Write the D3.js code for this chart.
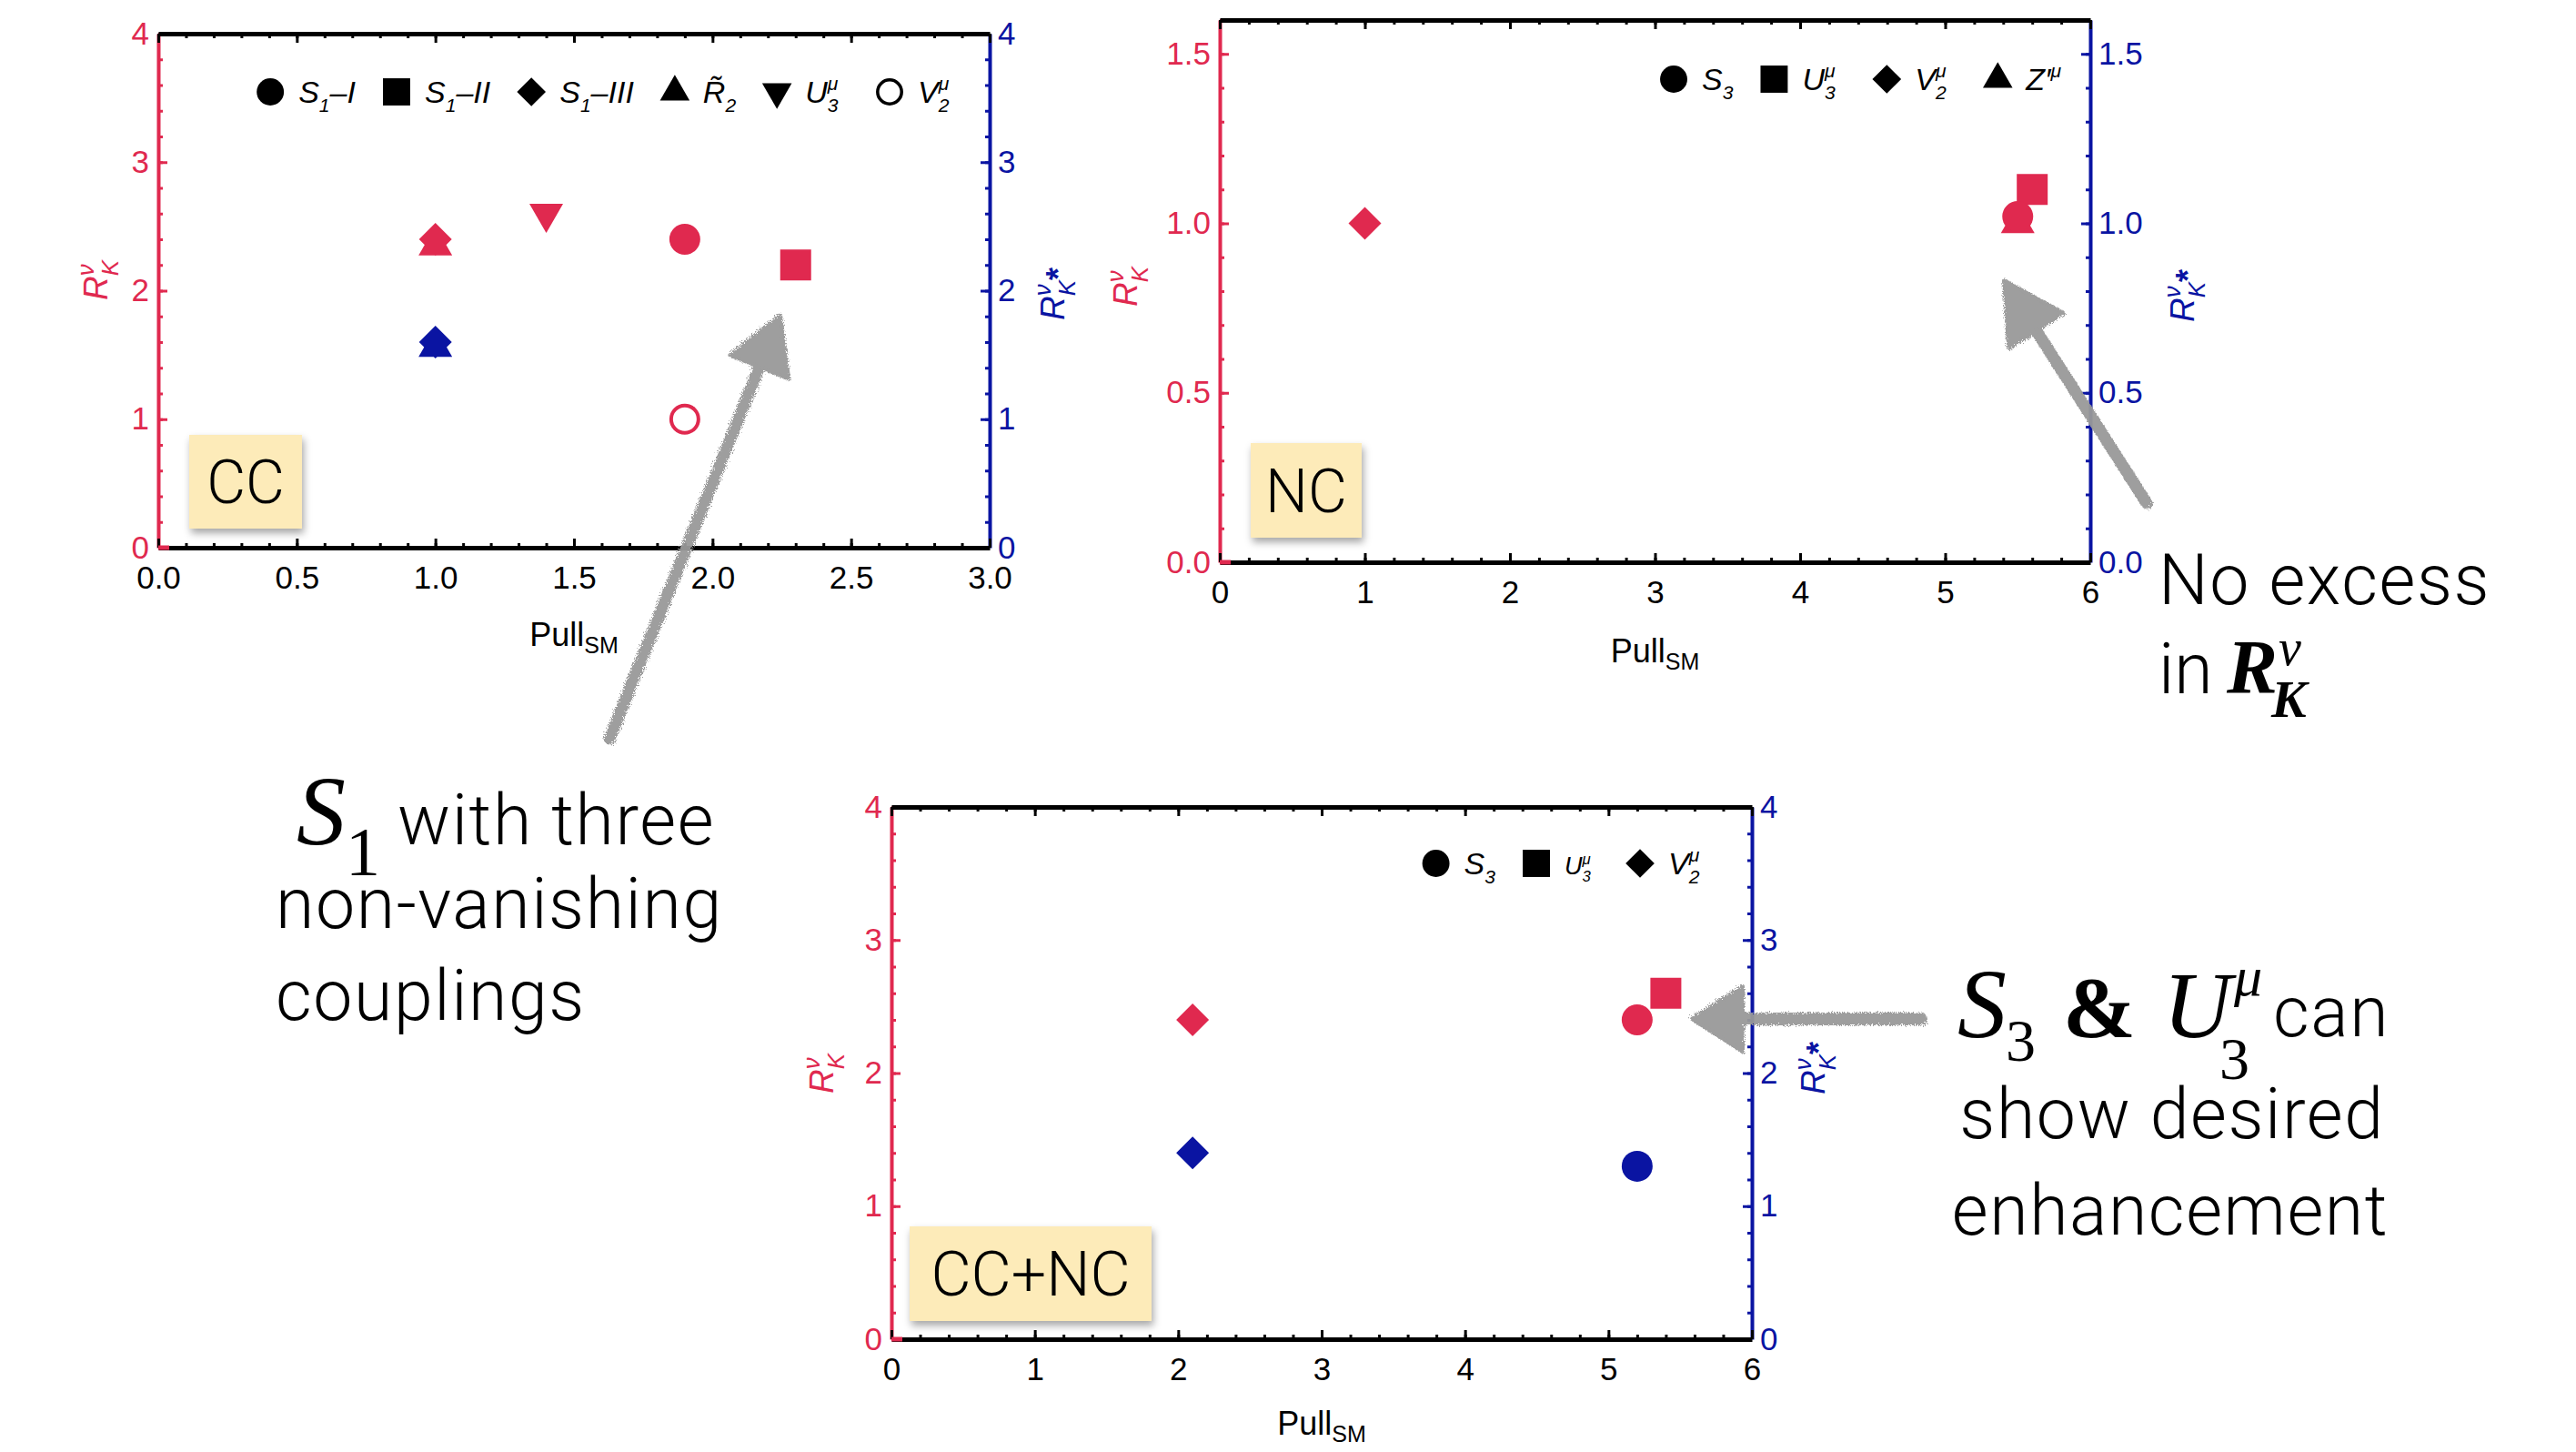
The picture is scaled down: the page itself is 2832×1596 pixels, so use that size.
<!DOCTYPE html>
<html><head><meta charset="utf-8">
<script src="https://cdn.jsdelivr.net/npm/d3@7"></script>
<style>body{margin:0;background:#fff} svg{display:block}</style>
</head><body>
<svg id="c" width="2832" height="1596"></svg>
<script>
// ---------------- DATA ----------------
// Panel CC
const ccModels  = ["S1-I", "S1-II", "S1-III", "R2tilde", "U3mu", "V2mu"];
const ccShapes  = ["circle", "square", "diamond", "triangle", "triangleDown", "circleOpen"];
const ccPull    = [1.9, 2.3, 1.0, 1.0, 1.4, 1.9];
const ccRK      = [2.4, 2.2, 2.4, 2.35, 2.6, 1.0];
const ccRKstar  = [null, null, 1.6, 1.56, null, null];
const ccXTicks  = [0, 0.5, 1, 1.5, 2, 2.5, 3];
const ccXLabels = ["0.0", "0.5", "1.0", "1.5", "2.0", "2.5", "3.0"];
const ccYTicks  = [0, 1, 2, 3, 4];
const ccYLabels = ["0", "1", "2", "3", "4"];
const ccLegend  = [
  {t: "S", sub: "1", post: "–I"},
  {t: "S", sub: "1", post: "–II"},
  {t: "S", sub: "1", post: "–III"},
  {t: "R\u0303", sub: "2"},
  {t: "U", sub: "3", sup: "μ"},
  {t: "V", sub: "2", sup: "μ"}
];
// Panel NC
const ncModels  = ["S3", "U3mu", "V2mu", "Zpmu"];
const ncShapes  = ["circle", "square", "diamond", "triangle"];
const ncPull    = [5.5, 5.6, 1.0, 5.5];
const ncRK      = [1.02, 1.1, 1.0, 1.0];
const ncRKstar  = [null, null, null, null];
const ncXTicks  = [0, 1, 2, 3, 4, 5, 6];
const ncXLabels = ["0", "1", "2", "3", "4", "5", "6"];
const ncYTicks  = [0, 0.5, 1.0, 1.5];
const ncYLabels = ["0.0", "0.5", "1.0", "1.5"];
const ncLegend  = [
  {t: "S", sub: "3"},
  {t: "U", sub: "3", sup: "μ"},
  {t: "V", sub: "2", sup: "μ"},
  {t: "Z′", sup: "μ"}
];
// Panel CC+NC
const cnModels  = ["S3", "U3mu", "V2mu"];
const cnShapes  = ["circle", "square", "diamond"];
const cnPull    = [5.2, 5.4, 2.1];
const cnRK      = [2.4, 2.6, 2.4];
const cnRKstar  = [1.3, null, 1.4];
const cnXTicks  = [0, 1, 2, 3, 4, 5, 6];
const cnXLabels = ["0", "1", "2", "3", "4", "5", "6"];
const cnYTicks  = [0, 1, 2, 3, 4];
const cnYLabels = ["0", "1", "2", "3", "4"];
const cnLegend  = [
  {t: "S", sub: "3"},
  {t: "U", sub: "3", sup: "μ", small: true},
  {t: "V", sub: "2", sup: "μ"}
];

// ---------------- STYLE ----------------
const RED = "#e0294f", BLUE = "#0a14a2";
const SANS = "'Liberation Sans', Arial, sans-serif";
const LIGHT = "Roboto, 'Open Sans', sans-serif";
const SERIF = "'Liberation Serif', 'Times New Roman', serif";

const svg = d3.select("#c");
svg.append("rect").attr("width", 2832).attr("height", 1596).attr("fill", "#fff");
const defs = svg.append("defs");
const rough = defs.append("filter").attr("id", "rough").attr("x", "-20%").attr("y", "-20%").attr("width", "140%").attr("height", "140%");
rough.append("feTurbulence").attr("type", "fractalNoise").attr("baseFrequency", 0.9).attr("numOctaves", 2).attr("result", "n");
rough.append("feDisplacementMap").attr("in", "SourceGraphic").attr("in2", "n").attr("scale", 8);
const shadow = defs.append("filter").attr("id", "shadow").attr("x", "-20%").attr("y", "-20%").attr("width", "140%").attr("height", "150%");
shadow.append("feDropShadow").attr("dx", 2).attr("dy", 5).attr("stdDeviation", 4).attr("flood-color", "#000").attr("flood-opacity", 0.35);

const diamondType = {draw(ctx, size) { const r = Math.sqrt(size / 2); ctx.moveTo(0, -r); ctx.lineTo(r, 0); ctx.lineTo(0, r); ctx.lineTo(-r, 0); ctx.closePath(); }};
function drawSymbol(g, shape, cx, cy, color, k) {
  k = k || 1;
  let sel;
  if (shape === "circle") sel = g.append("path").attr("d", d3.symbol(d3.symbolCircle, Math.PI * 17 * 17 * k * k)());
  else if (shape === "circleOpen") { sel = g.append("circle").attr("r", 15 * k).attr("fill", "none").attr("stroke", color).attr("stroke-width", 4 * k); sel.attr("cx", cx).attr("cy", cy); return sel; }
  else if (shape === "square") sel = g.append("path").attr("d", d3.symbol(d3.symbolSquare, 34 * 34 * k * k)());
  else if (shape === "diamond") sel = g.append("path").attr("d", d3.symbol(diamondType, 2 * 18 * 18 * k * k)());
  else if (shape === "triangle") sel = g.append("path").attr("d", d3.symbol(d3.symbolTriangle, 593 * k * k)());
  else if (shape === "triangleDown") sel = g.append("path").attr("d", d3.symbol(d3.symbolTriangle, 593 * k * k)());
  sel.attr("fill", color).attr("transform", `translate(${cx},${cy})` + (shape === "triangleDown" ? " rotate(180)" : ""));
  return sel;
}

function mathLabel(text, spec, fs) {
  const sfs = fs * 0.62;
  text.append("tspan").text(spec.t);
  let dyAcc = 0;
  if (spec.sub) {
    text.append("tspan").attr("font-size", sfs).attr("dy", fs * 0.28).text(spec.sub);
    dyAcc += fs * 0.28;
  }
  if (spec.sup) {
    const back = spec.sub ? -sfs * 0.56 : 0;
    text.append("tspan").attr("font-size", sfs).attr("dx", back).attr("dy", -dyAcc - fs * 0.42).text(spec.sup);
    dyAcc = -fs * 0.42;
  }
  if (spec.post) {
    text.append("tspan").attr("dy", -dyAcc).text(spec.post);
    dyAcc = 0;
  }
}

function minorTicks(lo, hi, step) {
  const n = Math.round((hi - lo) / step);
  return d3.range(n + 1).map(i => +(lo + i * step).toFixed(6));
}

function panel(cfg) {
  const g = svg.append("g");
  const x = d3.scaleLinear().domain(cfg.xDomain).range([cfg.x0, cfg.x1]);
  const yL = d3.scaleLinear().domain(cfg.yDomain).range([cfg.y1, cfg.y0]);
  const yR = d3.scaleLinear().domain(cfg.yDomain).range([cfg.y1, cfg.y0]);
  const fmtX = d => cfg.xLabels[cfg.xTicks.indexOf(d)];
  const fmtY = d => cfg.yLabels[cfg.yTicks.indexOf(d)];
  const xMin = minorTicks(cfg.xDomain[0], cfg.xDomain[1], cfg.xMinor);
  const yMin = minorTicks(cfg.yDomain[0], cfg.yDomain[1], cfg.yMinor);

  function style(ax, color, width) {
    ax.select(".domain").attr("stroke", color).attr("stroke-width", width);
    ax.selectAll(".tick line").attr("stroke", color).attr("stroke-width", 3);
    ax.selectAll(".tick text").attr("fill", color).attr("font-family", SANS).attr("font-size", 35);
  }
  const aL = g.append("g").attr("transform", `translate(${cfg.x0},0)`)
    .call(d3.axisLeft(yL).tickValues(cfg.yTicks).tickFormat(fmtY).tickSize(-10).tickSizeOuter(0).tickPadding(10));
  style(aL, RED, 4);
  const aLm = g.append("g").attr("transform", `translate(${cfg.x0},0)`)
    .call(d3.axisLeft(yL).tickValues(yMin).tickFormat("").tickSize(-5).tickSizeOuter(0));
  style(aLm, RED, 0); aLm.select(".domain").remove();
  const aR = g.append("g").attr("transform", `translate(${cfg.x1},0)`)
    .call(d3.axisRight(yR).tickValues(cfg.yTicks).tickFormat(fmtY).tickSize(-10).tickSizeOuter(0).tickPadding(9));
  style(aR, BLUE, 4);
  const aRm = g.append("g").attr("transform", `translate(${cfg.x1},0)`)
    .call(d3.axisRight(yR).tickValues(yMin).tickFormat("").tickSize(-5).tickSizeOuter(0));
  style(aRm, BLUE, 0); aRm.select(".domain").remove();
  const aB = g.append("g").attr("transform", `translate(0,${cfg.y1})`)
    .call(d3.axisBottom(x).tickValues(cfg.xTicks).tickFormat(fmtX).tickSize(-10).tickSizeOuter(0).tickPadding(20));
  style(aB, "#000", 5);
  const aBm = g.append("g").attr("transform", `translate(0,${cfg.y1})`)
    .call(d3.axisBottom(x).tickValues(xMin).tickFormat("").tickSize(-5).tickSizeOuter(0));
  style(aBm, "#000", 0); aBm.select(".domain").remove();
  const aT = g.append("g").attr("transform", `translate(0,${cfg.y0})`)
    .call(d3.axisTop(x).tickValues(cfg.xTicks).tickFormat("").tickSize(-10).tickSizeOuter(0));
  style(aT, "#000", 5);
  const aTm = g.append("g").attr("transform", `translate(0,${cfg.y0})`)
    .call(d3.axisTop(x).tickValues(xMin).tickFormat("").tickSize(-5).tickSizeOuter(0));
  style(aTm, "#000", 0); aTm.select(".domain").remove();
  g.append("line").attr("x1", cfg.x0).attr("x2", cfg.x0 + 12).attr("y1", cfg.y1).attr("y2", cfg.y1).attr("stroke", RED).attr("stroke-width", 5);

  const xl = g.append("text").attr("x", (cfg.x0 + cfg.x1) / 2).attr("y", cfg.xLabelY).attr("text-anchor", "middle")
    .attr("font-family", SANS).attr("font-size", 36).attr("fill", "#000");
  xl.append("tspan").text("Pull");
  xl.append("tspan").attr("font-size", 25).attr("dy", 8).text("SM");

  function yLabel(cx, cy, color, star) {
    const t = g.append("text").attr("transform", `translate(${cx},${cy}) rotate(-90)`).attr("text-anchor", "middle")
      .attr("font-family", SANS).attr("font-style", "italic").attr("font-size", 37).attr("fill", color).attr("dy", 10);
    t.append("tspan").text("R");
    t.append("tspan").attr("font-size", 26).attr("dy", -15).text("ν");
    t.append("tspan").attr("font-size", 26).attr("dx", -13).attr("dy", 27).text("K");
    if (star) t.append("tspan").attr("font-size", 36).attr("font-weight", "bold").attr("font-style", "normal").attr("dy", -6).text("*");
  }
  yLabel(cfg.yLx, cfg.yLy, RED, false);
  yLabel(cfg.yRx, cfg.yRy, BLUE, true);

  const mg = g.append("g");
  const idx = d3.range(cfg.pull.length).reverse();
  idx.forEach(i => { if (cfg.rkstar[i] != null) drawSymbol(mg, cfg.shapes[i], x(cfg.pull[i]), yR(cfg.rkstar[i]), BLUE); });
  idx.forEach(i => { if (cfg.rk[i] != null) drawSymbol(mg, cfg.shapes[i], x(cfg.pull[i]), yL(cfg.rk[i]), RED); });

  // legend
  const lg = g.append("g");
  let cur = 0;
  const items = [];
  const symW = 30, gapS = 16, gapI = 30;
  cfg.legend.forEach((spec, i) => {
    const fs = spec.small ? 27 : 34;
    const sx = cur + symW / 2;
    const t = lg.append("text").attr("x", cur + symW + gapS).attr("y", cfg.legendY + 12)
      .attr("font-family", SANS).attr("font-style", "italic").attr("font-size", fs).attr("fill", "#000");
    mathLabel(t, spec, fs);
    const w = t.node().getComputedTextLength();
    items.push({shape: cfg.shapes[i], sx});
    cur = cur + symW + gapS + w + gapI;
  });
  const total = cur - gapI;
  lg.attr("transform", `translate(${cfg.legendRight - total},0)`);
  items.forEach(it => drawSymbol(lg, it.shape, it.sx, cfg.legendY, "#000", 0.88));

  const b = cfg.box;
  g.append("rect").attr("x", b.x).attr("y", b.y).attr("width", b.w).attr("height", b.h).attr("fill", "#fdebb9").attr("filter", "url(#shadow)");
  g.append("text").attr("x", b.x + b.w / 2).attr("y", b.y + b.h / 2 + b.fs * 0.36).attr("text-anchor", "middle")
    .attr("font-family", LIGHT).attr("font-weight", 300).attr("font-size", b.fs).attr("fill", "#000").text(b.text);
}

panel({x0: 174, x1: 1088, y0: 37, y1: 602, xDomain: [0, 3], yDomain: [0, 4], xMinor: 0.1, yMinor: 0.2,
  xTicks: ccXTicks, xLabels: ccXLabels, yTicks: ccYTicks, yLabels: ccYLabels,
  pull: ccPull, rk: ccRK, rkstar: ccRKstar, shapes: ccShapes, legend: ccLegend, legendY: 101, legendRight: 1055,
  xLabelY: 710, yLx: 108, yLy: 308, yRx: 1160, yRy: 323,
  box: {x: 208, y: 478, w: 124, h: 103, text: "CC", fs: 66}});

panel({x0: 1341, x1: 2298, y0: 22, y1: 618, xDomain: [0, 6], yDomain: [0, 1.6], xMinor: 0.2, yMinor: 0.1,
  xTicks: ncXTicks, xLabels: ncXLabels, yTicks: ncYTicks, yLabels: ncYLabels,
  pull: ncPull, rk: ncRK, rkstar: ncRKstar, shapes: ncShapes, legend: ncLegend, legendY: 87, legendRight: 2266,
  xLabelY: 728, yLx: 1240, yLy: 315, yRx: 2402, yRy: 325,
  box: {x: 1375, y: 487, w: 122, h: 104, text: "NC", fs: 66}});

panel({x0: 980, x1: 1926, y0: 887, y1: 1472, xDomain: [0, 6], yDomain: [0, 4], xMinor: 0.2, yMinor: 0.2,
  xTicks: cnXTicks, xLabels: cnXLabels, yTicks: cnYTicks, yLabels: cnYLabels,
  pull: cnPull, rk: cnRK, rkstar: cnRKstar, shapes: cnShapes, legend: cnLegend, legendY: 949, legendRight: 1880,
  xLabelY: 1577, yLx: 906, yLy: 1180, yRx: 1996, yRy: 1174,
  box: {x: 1000, y: 1348, w: 266, h: 104, text: "CC+NC", fs: 68}});

// ---------------- ARROWS ----------------
function arrow(x1, y1, x2, y2, headLen, headW, shaftW) {
  const a = svg.append("g").attr("filter", "url(#rough)").attr("opacity", 0.95);
  const dx = x2 - x1, dy = y2 - y1, L = Math.hypot(dx, dy), ux = dx / L, uy = dy / L, px = -uy, py = ux;
  const bx = x2 - ux * headLen, by = y2 - uy * headLen;
  a.append("line").attr("x1", x1).attr("y1", y1).attr("x2", bx + ux * 5).attr("y2", by + uy * 5)
    .attr("stroke", "#999").attr("stroke-width", shaftW).attr("stroke-linecap", "round");
  a.append("path").attr("d", `M${x2},${y2}L${bx + px * headW / 2},${by + py * headW / 2}L${bx - px * headW / 2},${by - py * headW / 2}Z`)
    .attr("fill", "#999").attr("stroke", "#999").attr("stroke-width", 4).attr("stroke-linejoin", "round");
}
arrow(670, 812, 858, 346, 62, 70, 13);
arrow(2360, 553, 2203, 308, 66, 72, 13);
arrow(2112, 1120, 1860, 1120, 56, 72, 14);

// ---------------- ANNOTATIONS ----------------
const A = svg.append("g").attr("fill", "#000");
const LS = 1.6;
const t1 = A.append("text").attr("x", 326).attr("y", 928);
t1.append("tspan").attr("font-family", SERIF).attr("font-style", "italic").attr("font-size", 108).text("S");
t1.append("tspan").attr("font-family", SERIF).attr("font-size", 76).attr("dy", 34).text("1");
t1.append("tspan").attr("font-family", LIGHT).attr("font-weight", 300).attr("font-size", 77).attr("letter-spacing", LS).attr("x", 437).attr("dy", -34).text("with three");
A.append("text").attr("x", 303).attr("y", 1020).attr("font-family", LIGHT).attr("font-weight", 300).attr("font-size", 77).attr("letter-spacing", LS).text("non-vanishing");
A.append("text").attr("x", 303).attr("y", 1121).attr("font-family", LIGHT).attr("font-weight", 300).attr("font-size", 77).attr("letter-spacing", LS).text("couplings");

A.append("text").attr("x", 2373).attr("y", 664).attr("font-family", LIGHT).attr("font-weight", 300).attr("font-size", 77).attr("letter-spacing", LS).text("No excess");
A.append("text").attr("x", 2373).attr("y", 762).attr("font-family", LIGHT).attr("font-weight", 300).attr("font-size", 77).text("in");
A.append("text").attr("x", 2448).attr("y", 762).attr("font-family", SERIF).attr("font-style", "italic").attr("font-weight", "bold").attr("font-size", 84).text("R");
A.append("text").attr("x", 2505).attr("y", 731).attr("font-family", SERIF).attr("font-style", "italic").attr("font-size", 56).text("ν");
A.append("text").attr("x", 2497).attr("y", 788).attr("font-family", SERIF).attr("font-style", "italic").attr("font-weight", "bold").attr("font-size", 58).text("K");

A.append("text").attr("x", 2152).attr("y", 1140).attr("font-family", SERIF).attr("font-style", "italic").attr("font-size", 108).text("S");
A.append("text").attr("x", 2205).attr("y", 1166).attr("font-family", SERIF).attr("font-size", 66).text("3");
A.append("text").attr("x", 2268).attr("y", 1140).attr("font-family", SERIF).attr("font-weight", "bold").attr("font-size", 96).text("&");
A.append("text").attr("x", 2378).attr("y", 1140).attr("font-family", SERIF).attr("font-style", "italic").attr("font-size", 104).text("U");
A.append("text").attr("x", 2456).attr("y", 1094).attr("font-family", SERIF).attr("font-style", "italic").attr("font-size", 62).text("μ");
A.append("text").attr("x", 2440).attr("y", 1186).attr("font-family", SERIF).attr("font-size", 66).text("3");
A.append("text").attr("x", 2499).attr("y", 1139).attr("font-family", LIGHT).attr("font-weight", 300).attr("font-size", 77).attr("letter-spacing", LS).text("can");
A.append("text").attr("x", 2388).attr("y", 1251).attr("text-anchor", "middle").attr("font-family", LIGHT).attr("font-weight", 300).attr("font-size", 77).attr("letter-spacing", LS).text("show desired");
A.append("text").attr("x", 2386).attr("y", 1357).attr("text-anchor", "middle").attr("font-family", LIGHT).attr("font-weight", 300).attr("font-size", 77).attr("letter-spacing", LS).text("enhancement");
</script>
</body></html>
